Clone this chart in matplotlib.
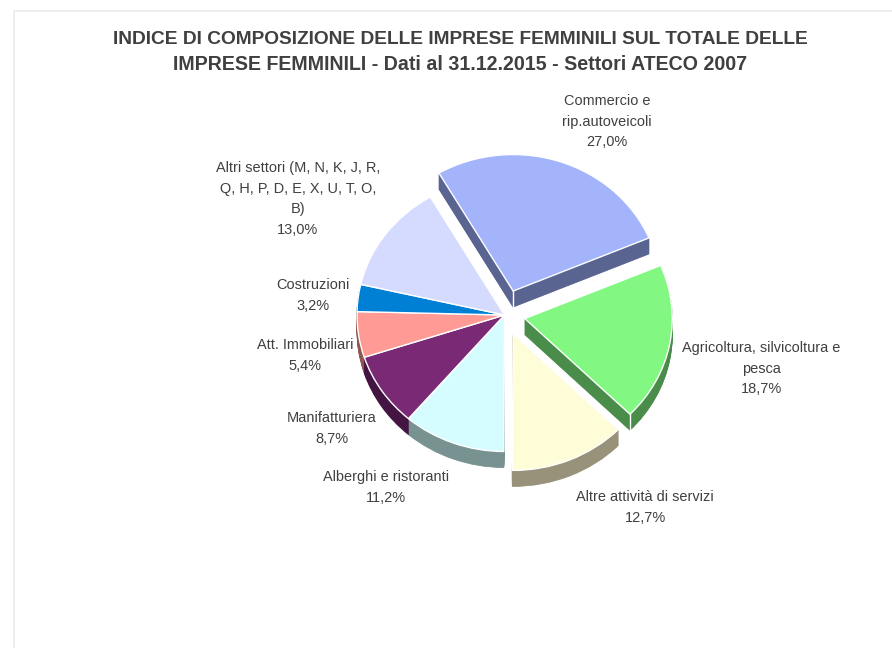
import math
import matplotlib
matplotlib.use("Agg")
import matplotlib.pyplot as plt
from matplotlib.lines import Line2D

plt.rcParams['font.family'] = ['Liberation Sans', 'DejaVu Sans']

TITLE = ["INDICE DI COMPOSIZIONE DELLE IMPRESE FEMMINILI SUL TOTALE DELLE",
         "IMPRESE FEMMINILI - Dati al 31.12.2015 - Settori ATECO 2007"]
sectors = ["Commercio e\nrip.autoveicoli", "Agricoltura, silvicoltura e\npesca",
           "Altre attività di servizi", "Alberghi e ristoranti", "Manifatturiera",
           "Att. Immobiliari", "Costruzioni",
           "Altri settori (M, N, K, J, R,\nQ, H, P, D, E, X, U, T, O,\nB)"]
values = [27.0, 18.7, 12.7, 11.2, 8.7, 5.4, 3.2, 13.0]
explode = [0.185, 0.14, 0.15, 0, 0, 0, 0, 0]
top_colors = ["#A3B4FB", "#82F882", "#FFFCD8", "#D5FCFF", "#7A2A75", "#FF9A94", "#0080D4", "#D5DBFF"]
wall_colors = ["#5A6491", "#4A8C4A", "#979279", "#789292", "#441542", "#8F5652", "#004A7A", "#7A7E94"]
label_x = [607, 761, 645, 386, 332, 305, 313, 298]
label_y = [101, 348, 497, 477, 418, 345, 285, 168]

W, H = 892, 648
CX, CY, RX, RY, DEPTH = 504.5, 315, 147.5, 136.5, 16
START = 120.2
TXT = "#404040"

fig = plt.figure(figsize=(W / 100, H / 100), dpi=100, facecolor="white")
ax = fig.add_axes([0, 0, 1, 1])

for d in range(DEPTH, 0, -1):
    ax.pie(values, explode=explode, colors=wall_colors, startangle=START, counterclock=False,
           center=(0, -d / RY), wedgeprops=dict(linewidth=0.6, edgecolor=None, zorder=1))
    for p, c in zip(ax.patches[-len(values):], wall_colors):
        p.set_edgecolor(c)

tops, _ = ax.pie(values, explode=explode, colors=top_colors, startangle=START, counterclock=False,
                 center=(0, 0), wedgeprops=dict(linewidth=1.0, edgecolor="white", zorder=3))

# white creases on the visible wall corners
comm, agri = tops[0], tops[1]
ax.plot([comm.center[0]] * 2, [comm.center[1], comm.center[1] - DEPTH / RY], color="white", lw=1, zorder=2)
ex = agri.center[0] + math.cos(math.radians(agri.theta1))
ey = agri.center[1] + math.sin(math.radians(agri.theta1))
ax.plot([ex, ex], [ey, ey - DEPTH / RY], color="white", lw=1, zorder=2)

ax.set_aspect("auto")
ax.set_xlim(-CX / RX, (W - CX) / RX)
ax.set_ylim(-(H - CY) / RY, CY / RY)
ax.set_axis_off()


def px_text(x, y, s, **kw):
    fig.text(x / W, 1 - y / H, s, ha="center", va="center", color=TXT, **kw)


for line, y, size in zip(TITLE, (40, 64), (13.78, 14.15)):
    px_text(460, y, line, fontsize=size, fontweight="bold")

for name, v, x, y in zip(sectors, values, label_x, label_y):
    lines = name.split("\n") + [f"{v:.1f}%".replace(".", ",")]
    for i, line in enumerate(lines):
        px_text(x, y + i * 20.7, line, fontsize=10.45)

fig.add_artist(Line2D([13.5 / W, 13.5 / W, 1], [0, 1 - 11 / H, 1 - 11 / H],
                      color="#EBEBEB", lw=1.2, transform=fig.transFigure))

fig.savefig("out.png", dpi=100)
